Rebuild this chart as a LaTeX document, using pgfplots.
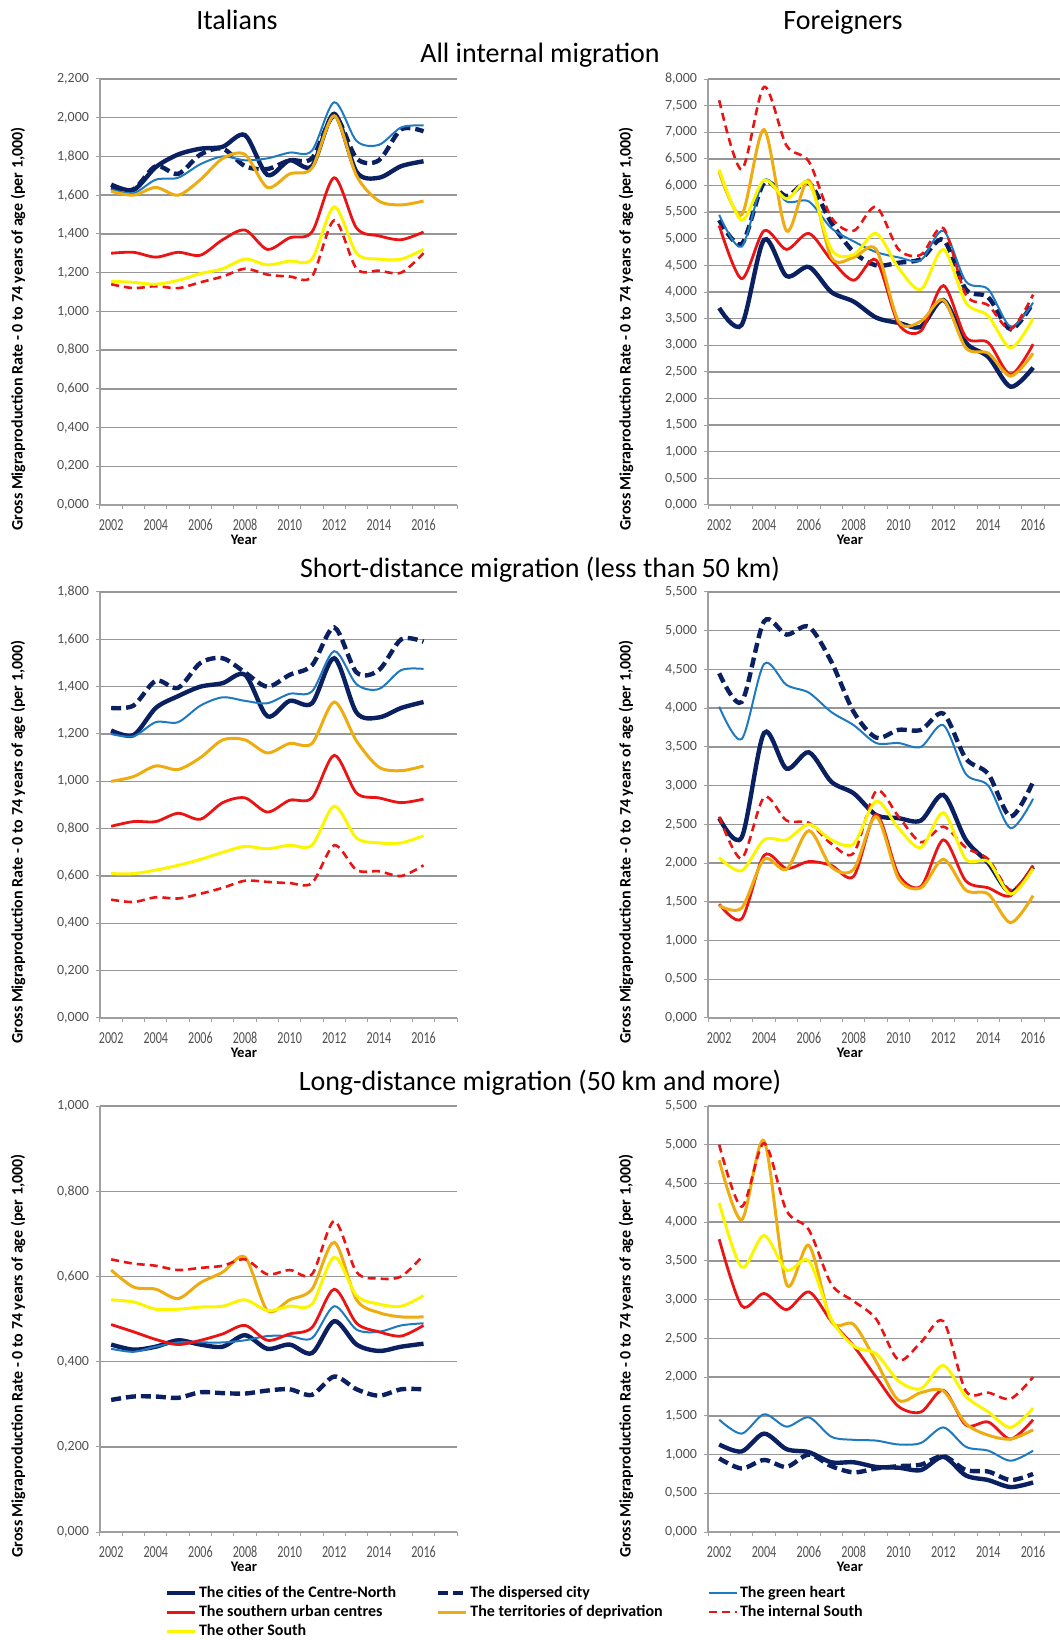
\documentclass[border=0pt]{standalone}
\usepackage{fontspec}
\setmainfont{Carlito}[Numbers=Lining]
\usepackage{graphicx}
\usepackage{pgfplots}
\usepackage{pgfplotstable}
\pgfplotsset{compat=1.18}
\definecolor{navy}{RGB}{10,32,96}
\definecolor{ghblue}{RGB}{30,122,192}
\definecolor{sred}{RGB}{235,20,20}
\definecolor{orng}{RGB}{238,172,16}
\definecolor{yel}{RGB}{252,245,0}
\definecolor{axgray}{RGB}{160,160,160}
\definecolor{gridgray}{RGB}{150,150,150}
\definecolor{tickgray}{RGB}{80,80,80}
\newcommand\sq[1]{\scalebox{0.72}[1]{#1}}

\pgfplotstableread{
year cn dc gh su td is os
2002 1.655 1.640 1.630 1.300 1.620 1.140 1.155
2003 1.627 1.630 1.610 1.305 1.600 1.120 1.150
2004 1.745 1.750 1.680 1.280 1.640 1.130 1.140
2005 1.810 1.710 1.690 1.305 1.600 1.120 1.160
2006 1.840 1.810 1.760 1.290 1.680 1.150 1.195
2007 1.850 1.840 1.800 1.370 1.790 1.180 1.220
2008 1.910 1.750 1.780 1.420 1.810 1.220 1.270
2009 1.705 1.735 1.790 1.320 1.640 1.190 1.240
2010 1.780 1.780 1.820 1.380 1.710 1.180 1.260
2011 1.750 1.790 1.830 1.410 1.740 1.180 1.270
2012 2.020 2.010 2.080 1.690 2.010 1.470 1.540
2013 1.720 1.790 1.880 1.430 1.700 1.220 1.300
2014 1.690 1.780 1.860 1.390 1.570 1.210 1.270
2015 1.750 1.940 1.950 1.370 1.550 1.200 1.270
2016 1.775 1.930 1.960 1.410 1.570 1.300 1.320
}\tabA
\pgfplotstableread{
year cn dc gh su td is os
2002 3.70 5.35 5.45 5.25 6.25 7.60 6.30
2003 3.38 4.90 4.85 4.25 5.45 6.30 5.35
2004 4.98 6.05 6.10 5.15 7.05 7.85 6.10
2005 4.30 5.80 5.70 4.80 5.15 6.75 5.75
2006 4.47 6.05 5.70 5.10 6.10 6.45 6.05
2007 4.00 5.30 5.20 4.60 4.65 5.40 4.80
2008 3.82 4.75 4.95 4.22 4.65 5.15 4.70
2009 3.52 4.50 4.75 4.60 4.80 5.60 5.10
2010 3.42 4.55 4.65 3.40 3.45 4.80 4.45
2011 3.35 4.62 4.60 3.27 3.45 4.70 4.05
2012 3.85 4.98 5.15 4.12 3.85 5.20 4.80
2013 3.05 4.05 4.20 3.15 2.95 3.95 3.80
2014 2.78 3.90 4.05 3.05 2.85 3.75 3.55
2015 2.22 3.30 3.35 2.45 2.42 3.30 2.95
2016 2.58 3.80 3.80 3.02 2.85 3.95 3.50
}\tabB
\pgfplotstableread{
year cn dc gh su td is os
2002 1.215 1.310 1.200 0.810 1.000 0.500 0.610
2003 1.195 1.320 1.190 0.830 1.020 0.490 0.610
2004 1.310 1.425 1.250 0.830 1.065 0.510 0.625
2005 1.360 1.395 1.250 0.865 1.050 0.505 0.645
2006 1.400 1.500 1.320 0.840 1.100 0.525 0.670
2007 1.415 1.520 1.355 0.910 1.175 0.550 0.700
2008 1.450 1.460 1.340 0.930 1.175 0.580 0.725
2009 1.275 1.400 1.330 0.870 1.120 0.575 0.715
2010 1.340 1.450 1.370 0.920 1.160 0.570 0.730
2011 1.330 1.490 1.380 0.930 1.160 0.570 0.730
2012 1.520 1.650 1.550 1.110 1.335 0.730 0.895
2013 1.290 1.460 1.410 0.950 1.170 0.625 0.760
2014 1.270 1.470 1.390 0.930 1.060 0.620 0.740
2015 1.310 1.600 1.470 0.910 1.045 0.600 0.740
2016 1.335 1.590 1.475 0.925 1.065 0.645 0.770
}\tabC
\pgfplotstableread{
year cn dc gh su td is os
2002 2.58 4.45 4.02 1.47 1.45 2.60 2.07
2003 2.33 4.08 3.60 1.28 1.42 2.06 1.90
2004 3.68 5.12 4.57 2.10 2.05 2.85 2.30
2005 3.22 4.95 4.30 1.93 1.92 2.55 2.30
2006 3.43 5.05 4.20 2.02 2.42 2.52 2.50
2007 3.05 4.60 3.95 1.97 1.95 2.25 2.30
2008 2.90 3.95 3.78 1.83 1.92 2.13 2.25
2009 2.62 3.62 3.55 2.63 2.60 2.93 2.80
2010 2.58 3.72 3.55 1.85 1.80 2.60 2.45
2011 2.55 3.72 3.50 1.70 1.68 2.27 2.20
2012 2.88 3.93 3.78 2.30 2.05 2.47 2.65
2013 2.30 3.35 3.15 1.77 1.65 2.20 2.05
2014 2.00 3.15 3.00 1.68 1.60 2.05 2.02
2015 1.62 2.60 2.45 1.58 1.23 1.65 1.60
2016 1.95 3.05 2.83 1.97 1.58 1.95 1.93
}\tabD
\pgfplotstableread{
year cn dc gh su td is os
2002 0.440 0.310 0.430 0.487 0.615 0.640 0.545
2003 0.428 0.318 0.423 0.470 0.575 0.630 0.540
2004 0.435 0.318 0.435 0.452 0.570 0.625 0.523
2005 0.450 0.315 0.445 0.440 0.548 0.615 0.523
2006 0.440 0.328 0.445 0.450 0.585 0.620 0.528
2007 0.435 0.326 0.445 0.465 0.610 0.625 0.530
2008 0.462 0.325 0.450 0.485 0.645 0.640 0.545
2009 0.430 0.332 0.460 0.450 0.520 0.605 0.520
2010 0.440 0.335 0.460 0.465 0.545 0.615 0.530
2011 0.420 0.322 0.455 0.480 0.570 0.605 0.535
2012 0.495 0.365 0.530 0.570 0.680 0.730 0.645
2013 0.440 0.335 0.475 0.490 0.545 0.610 0.555
2014 0.425 0.320 0.470 0.470 0.515 0.595 0.535
2015 0.435 0.335 0.485 0.460 0.505 0.600 0.530
2016 0.442 0.335 0.490 0.485 0.505 0.650 0.555
}\tabE
\pgfplotstableread{
year cn dc gh su td is os
2002 1.13 0.95 1.45 3.78 4.80 5.00 4.25
2003 1.04 0.82 1.27 2.92 4.03 4.20 3.42
2004 1.27 0.93 1.52 3.08 5.05 5.02 3.83
2005 1.07 0.84 1.36 2.87 3.20 4.15 3.38
2006 1.03 1.00 1.48 3.10 3.70 3.90 3.50
2007 0.90 0.85 1.23 2.72 2.72 3.20 2.75
2008 0.90 0.77 1.19 2.40 2.68 2.98 2.40
2009 0.84 0.82 1.18 2.00 2.20 2.75 2.30
2010 0.83 0.85 1.13 1.62 1.70 2.22 1.95
2011 0.80 0.87 1.15 1.55 1.80 2.45 1.85
2012 0.97 0.98 1.35 1.83 1.82 2.72 2.15
2013 0.73 0.80 1.10 1.38 1.40 1.82 1.75
2014 0.67 0.78 1.05 1.42 1.25 1.80 1.55
2015 0.58 0.67 0.92 1.20 1.20 1.72 1.35
2016 0.64 0.75 1.05 1.45 1.32 2.00 1.60
}\tabF

\pgfplotsset{
  scn/.style={color=navy, line width=2.2pt, smooth},
  sdc/.style={color=navy, line width=2.2pt, dash pattern=on 5pt off 2.5pt, smooth},
  sgh/.style={color=ghblue, line width=1.0pt, smooth},
  ssu/.style={color=sred, line width=1.4pt, smooth},
  std/.style={color=orng, line width=1.5pt, smooth},
  sis/.style={color=sred, line width=1.3pt, dash pattern=on 4pt off 2.5pt, smooth},
  sos/.style={color=yel, line width=1.5pt, smooth},
  base/.style={
    scale only axis, height=213pt,
    xmin=2001.5, ymin=0,
    axis x line*=bottom, axis y line*=left,
    axis line style={draw=axgray, line width=0.6pt},
    ymajorgrids, grid style={draw=gridgray, line width=0.7pt},
    tick align=outside, major tick length=2pt, minor tick length=2pt,
    tick style={draw=axgray, line width=0.5pt},
    xtick={2002,2004,2006,2008,2010,2012,2014,2016},
    xticklabels={\sq{2002},\sq{2004},\sq{2006},\sq{2008},\sq{2010},\sq{2012},\sq{2014},\sq{2016}},
    major x tick style={draw=none},
    minor xtick={2001.5,2002.5,2003.5,2004.5,2005.5,2006.5,2007.5,2008.5,2009.5,2010.5,2011.5,2012.5,2013.5,2014.5,2015.5,2016.5,2017.5},
    ticklabel style={font=\fontsize{7}{8}\selectfont, text=tickgray},
    xticklabel style={yshift=-1.5pt, font=\fontsize{8.4}{9}\selectfont, text height=5.8pt, text depth=0pt},
    yticklabel style={/pgf/number format/.cd, fixed, fixed zerofill, precision=3, use comma, 1000 sep={}, assume math mode=true},
    xlabel={Year},
    xlabel style={at={(axis description cs:0.403,0)}, anchor=center, yshift=-17.5pt, font=\bfseries\fontsize{7.3}{8}\selectfont},
    ylabel={Gross Migraproduction Rate - 0 to 74 years of age (per 1,000)},
    ylabel style={at={(axis description cs:0,0.413)}, anchor=center, yshift=41pt, font=\bfseries\fontsize{8}{9}\selectfont},
  },
  leftp/.style={base, width=178.5pt, xmax=2017.5},
  rightp/.style={base, width=176pt, xmax=2017.2},
}
\newcommand\seven[1]{%
  \addplot[scn] table[x=year,y=cn]{#1};
  \addplot[sdc] table[x=year,y=dc]{#1};
  \addplot[sgh] table[x=year,y=gh]{#1};
  \addplot[ssu] table[x=year,y=su]{#1};
  \addplot[std] table[x=year,y=td]{#1};
  \addplot[sis] table[x=year,y=is]{#1};
  \addplot[sos] table[x=year,y=os]{#1};
}

\begin{document}
\begin{tikzpicture}
\path[use as bounding box] (0pt,0pt) rectangle (530pt,820pt);

\node[font=\fontsize{14}{16}\selectfont, anchor=base] at (118.5pt,805.3pt) {Italians};
\node[font=\fontsize{14}{16}\selectfont, anchor=base] at (421.5pt,805.3pt) {Foreigners};
\node[font=\fontsize{14}{16}\selectfont, anchor=base] at (270pt,788.6pt) {All internal migration};
\node[font=\fontsize{14}{16}\selectfont, anchor=base] at (270pt,531.2pt) {Short-distance migration (less than 50 km)};
\node[font=\fontsize{14}{16}\selectfont, anchor=base] at (270pt,274.8pt) {Long-distance migration (50 km and more)};

\begin{axis}[leftp, at={(50pt,567.5pt)}, anchor=south west, ymax=2.2,
  ytick={0,0.2,0.4,0.6,0.8,1.0,1.2,1.4,1.6,1.8,2.0,2.2}]
\seven{\tabA}
\end{axis}

\begin{axis}[rightp, at={(354pt,567.5pt)}, anchor=south west, ymax=8,
  ytick={0,0.5,1,1.5,2,2.5,3,3.5,4,4.5,5,5.5,6,6.5,7,7.5,8}]
\seven{\tabB}
\end{axis}

\begin{axis}[leftp, at={(50pt,311pt)}, anchor=south west, ymax=1.8,
  ytick={0,0.2,0.4,0.6,0.8,1.0,1.2,1.4,1.6,1.8}]
\seven{\tabC}
\end{axis}

\begin{axis}[rightp, at={(354pt,311pt)}, anchor=south west, ymax=5.5,
  ytick={0,0.5,1,1.5,2,2.5,3,3.5,4,4.5,5,5.5}]
\seven{\tabD}
\end{axis}

\begin{axis}[leftp, at={(50pt,54pt)}, anchor=south west, ymax=1.0,
  ytick={0,0.2,0.4,0.6,0.8,1.0},
  legend columns=3,
  legend cell align=left,
  legend image code/.code={\draw[#1] (0pt,0pt) -- (14pt,0pt);},
  legend style={at={(axis description cs:0.18,-0.122)}, anchor=north west,
    draw=none, fill=none, inner sep=0pt,
    font=\bfseries\fontsize{8}{9}\selectfont,
    /tikz/column sep=0pt, row sep=1pt,
    nodes={inner xsep=1pt, inner ysep=0.5pt, text height=6pt, text depth=1.6pt}},
  legend entries={\makebox[117.5pt][l]{The cities of the Centre-North},
    \makebox[117.5pt][l]{The dispersed city},
    \makebox[117.5pt][l]{The green heart},
    \makebox[117.5pt][l]{The southern urban centres},
    \makebox[117.5pt][l]{The territories of deprivation},
    \makebox[117.5pt][l]{The internal South},
    \makebox[117.5pt][l]{The other South}}]
\seven{\tabE}
\end{axis}

\begin{axis}[rightp, at={(354pt,54pt)}, anchor=south west, ymax=5.5,
  ytick={0,0.5,1,1.5,2,2.5,3,3.5,4,4.5,5,5.5}]
\seven{\tabF}
\end{axis}
\end{tikzpicture}
\end{document}
